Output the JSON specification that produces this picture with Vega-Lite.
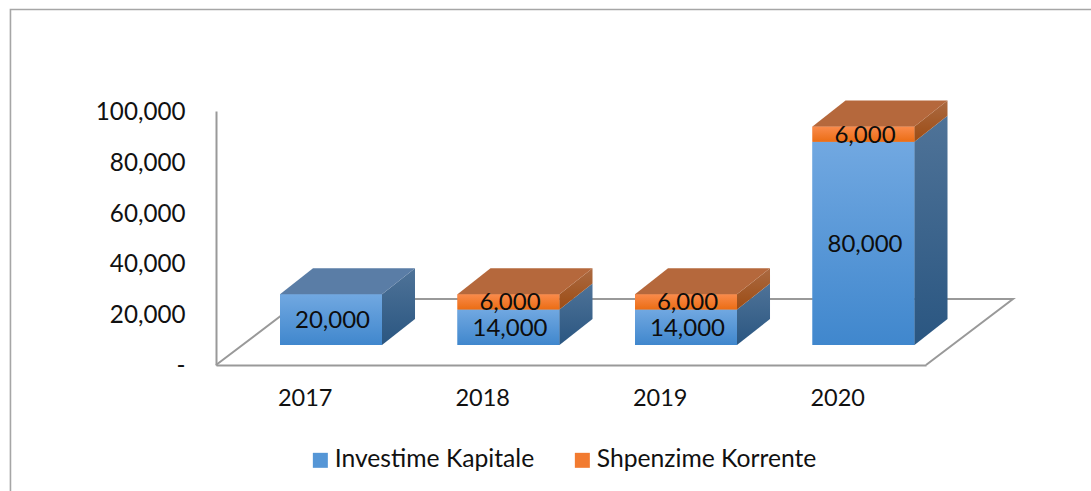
{
"$schema":"https://vega.github.io/schema/vega-lite/v6.json",
"width":710,"height":254,
"autosize":{"type":"none"},
"padding":{"left":216,"top":111,"right":165,"bottom":126},
"background":"white",
"config":{"view":{"stroke":null},"font":"Lato","text":{"font":"Lato"}},
"datasets":{
"bars":[
{"year":2017,"series":"Investime Kapitale","order":1,"value":20000},
{"year":2018,"series":"Investime Kapitale","order":1,"value":14000},
{"year":2018,"series":"Shpenzime Korrente","order":2,"value":6000},
{"year":2019,"series":"Investime Kapitale","order":1,"value":14000},
{"year":2019,"series":"Shpenzime Korrente","order":2,"value":6000},
{"year":2020,"series":"Investime Kapitale","order":1,"value":80000},
{"year":2020,"series":"Shpenzime Korrente","order":2,"value":6000}
],
"floor":[
{"slot":0,"depth":0,"n":1},
{"slot":0,"depth":1,"n":2},
{"slot":4,"depth":1,"n":3},
{"slot":4,"depth":0,"n":4}
],
"frame":[
{"fx":-1.158,"fy":-49606,"n":1},
{"fx":-1.158,"fy":139960,"n":2},
{"fx":4.93,"fy":139960,"n":3}
]
},
"encoding":{
"x":{"type":"quantitative","scale":{"domain":[0,4],"nice":false,"zero":false},"axis":{"values":[0.5,1.5,2.5,3.5],"labelExpr":"'' + (2017 + floor(datum.value))","title":null,"grid":false,"ticks":false,"domainColor":"#999999","domainWidth":2,"labelFont":"Lato","labelFontSize":23.5,"labelColor":"#111111","labelPadding":21,"labelAngle":0}},
"y":{"type":"quantitative","scale":{"domain":[0,100000],"nice":false,"zero":false},"axis":{"values":[0,20000,40000,60000,80000,100000],"labelExpr":"datum.value == 0 ? '-' : format(datum.value, ',')","title":null,"grid":false,"ticks":false,"domainColor":"#999999","domainWidth":2,"labelFont":"Lato","labelFontSize":24.2,"labelColor":"#111111","labelPadding":31,"labelOffset":1.5,"encode":{"labels":{"update":{"dx":{"signal":"datum.value == 0 ? -13 : 0"}}}}}}
},
"layer":[
{
"data":{"name":"frame"},
"mark":{"type":"line","color":"#a6a6a6","strokeWidth":1.6,"interpolate":"linear"},
"encoding":{
"x":{"field":"fx"},
"y":{"field":"fy"},
"order":{"field":"n"}
}
},
{
"data":{"name":"floor"},
"transform":[
{"calculate":"datum.slot + datum.depth*0.49","as":"fx"},
{"calculate":"datum.depth*25984","as":"fy"}
],
"mark":{"type":"line","color":"#999999","strokeWidth":2},
"encoding":{
"x":{"field":"fx"},
"y":{"field":"fy"},
"order":{"field":"n"}
}
},
{
"data":{"name":"bars"},
"transform":[
{"stack":"value","groupby":["year"],"sort":[{"field":"order"}],"as":["v0","v1"]},
{"calculate":"datum.year-2017+0.3606","as":"xl"},
{"calculate":"datum.xl+0.5746","as":"xr"},
{"calculate":"datum.v0+7874","as":"lo"},
{"calculate":"datum.v1+7874","as":"hi"}
],
"layer":[
{
"mark":{"type":"rect"},
"encoding":{
"x":{"field":"xl"},
"x2":{"field":"xr"},
"y":{"field":"lo"},
"y2":{"field":"hi"},
"color":{"field":"series","type":"nominal","scale":{"domain":["Investime Kapitale","Shpenzime Korrente"],"range":["#5596d6","#f27b30"]},
"legend":{"title":null,"orient":"none","direction":"horizontal","legendX":92,"legendY":336.5,"symbolType":"square","symbolSize":225,"symbolStrokeWidth":0,"labelFont":"Lato","labelFontSize":24.7,"labelColor":"#111111","labelOffset":2,"columnPadding":35,"labelLimit":400}}
}
},
{
"transform":[{"filter":"datum.order==1"}],
"mark":{"type":"rect","fill":{"gradient":"linear","x1":0,"y1":0,"x2":0,"y2":1,"stops":[{"offset":0,"color":"#71a8e1"},{"offset":1,"color":"#4087cd"}]}},
"encoding":{"x":{"field":"xl"},"x2":{"field":"xr"},"y":{"field":"lo"},"y2":{"field":"hi"}}
},
{
"transform":[{"filter":"datum.order==2"}],
"mark":{"type":"rect","fill":{"gradient":"linear","x1":0,"y1":0,"x2":0,"y2":1,"stops":[{"offset":0,"color":"#fa8b4c"},{"offset":1,"color":"#eb6d14"}]}},
"encoding":{"x":{"field":"xl"},"x2":{"field":"xr"},"y":{"field":"lo"},"y2":{"field":"hi"}}
},
{
"transform":[{"filter":"datum.order==1"},{"calculate":"[0,1]","as":"k"},{"flatten":["k"]},
{"calculate":"datum.xr+datum.k*0.186","as":"fx"},
{"calculate":"datum.hi+datum.k*10236","as":"fy"},
{"calculate":"datum.lo+datum.k*10236","as":"fy2"}],
"mark":{"type":"area","orient":"vertical","fill":{"gradient":"linear","x1":0,"y1":0,"x2":0,"y2":1,"stops":[{"offset":0,"color":"#4f7398"},{"offset":1,"color":"#2a5681"}]}},
"encoding":{"x":{"field":"fx"},"y":{"field":"fy","stack":null},"y2":{"field":"fy2"},"detail":{"field":"year"}}
},
{
"transform":[{"filter":"datum.order==2"},{"calculate":"[0,1]","as":"k"},{"flatten":["k"]},
{"calculate":"datum.xr+datum.k*0.186","as":"fx"},
{"calculate":"datum.hi+datum.k*10236","as":"fy"},
{"calculate":"datum.lo+datum.k*10236","as":"fy2"}],
"mark":{"type":"area","orient":"vertical","fill":{"gradient":"linear","x1":0,"y1":0,"x2":0,"y2":1,"stops":[{"offset":0,"color":"#ab6a42"},{"offset":1,"color":"#9c4c14"}]}},
"encoding":{"x":{"field":"fx"},"y":{"field":"fy","stack":null},"y2":{"field":"fy2"},"detail":{"field":"year"}}
},
{
"transform":[{"joinaggregate":[{"op":"max","field":"v1","as":"peak"}],"groupby":["year"]},{"filter":"datum.v1==datum.peak"},
{"calculate":"[0,1,2,3]","as":"k"},{"flatten":["k"]},
{"calculate":"datum.xl+[0,0.186,0.5746,0.7606][datum.k]","as":"fx"},
{"calculate":"datum.hi+[0,10236,10236,10236][datum.k]","as":"fy"},
{"calculate":"datum.hi+[0,0,0,10236][datum.k]","as":"fy2"}],
"mark":{"type":"area","orient":"vertical"},
"encoding":{"x":{"field":"fx"},"y":{"field":"fy","stack":null},"y2":{"field":"fy2"},"detail":{"field":"year"},
"fill":{"field":"series","type":"nominal","legend":null,"scale":{"domain":["Investime Kapitale","Shpenzime Korrente"],"range":["#5a7da6","#b5683c"]}}}
},
{
"transform":[{"calculate":"(datum.xl+datum.xr)/2","as":"xc"},{"calculate":"(datum.lo+datum.hi)/2","as":"yc"}],
"mark":{"type":"text","font":"Lato","fontSize":24,"color":"#0d0d0d","baseline":"middle","align":"center","dy":1.5,"dx":1.5},
"encoding":{"x":{"field":"xc"},"y":{"field":"yc"},"text":{"field":"value","type":"quantitative","format":","}}
}
]
}
],
"resolve":{"scale":{"fill":"independent","color":"independent"}}
}
